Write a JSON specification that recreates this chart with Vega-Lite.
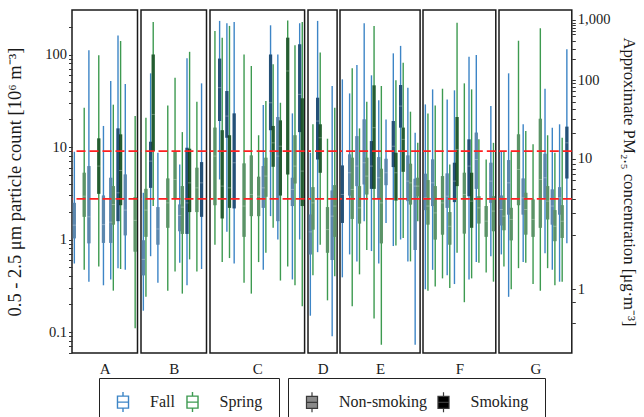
{
"$schema": "https://vega.github.io/schema/vega-lite/v6.json",
"background": "white",
"padding": {"left": 5, "top": 9, "right": 5, "bottom": 5},
"datasets": {
"thr": [{"v": 9.04}, {"v": 2.75}],
"boxes": [
{"g":"A","h":"A01","s":"Fall","k":"Non-smoking","lo":0.55,"q1":1.03,"md":1.43,"q3":2.49,"hi":8.89},
{"g":"A","h":"A02","s":"Spring","k":"Non-smoking","lo":0.47,"q1":1.76,"md":2.94,"q3":5.27,"hi":26.6},
{"g":"A","h":"A03","s":"Fall","k":"Non-smoking","lo":0.35,"q1":0.91,"md":1.76,"q3":6.22,"hi":111},
{"g":"A","h":"A04","s":"Spring","k":"Smoking","lo":0.51,"q1":3.12,"md":6.22,"q3":12.4,"hi":98.1},
{"g":"A","h":"A05","s":"Fall","k":"Non-smoking","lo":0.32,"q1":0.92,"md":1.45,"q3":2.99,"hi":16.9},
{"g":"A","h":"A06","s":"Fall","k":"Non-smoking","lo":0.37,"q1":0.92,"md":1.54,"q3":4.65,"hi":51.7},
{"g":"A","h":"A06","s":"Spring","k":"Non-smoking","lo":0.28,"q1":1.45,"md":2.39,"q3":3.78,"hi":28.7},
{"g":"A","h":"A07","s":"Fall","k":"Smoking","lo":0.49,"q1":1.58,"md":3.2,"q3":15.9,"hi":161},
{"g":"A","h":"A07","s":"Spring","k":"Smoking","lo":0.48,"q1":2.35,"md":5.58,"q3":13.7,"hi":140},
{"g":"A","h":"A08","s":"Fall","k":"Non-smoking","lo":0.47,"q1":1.11,"md":2.08,"q3":5.05,"hi":48},
{"g":"A","h":"A09","s":"Spring","k":"Non-smoking","lo":0.11,"q1":0.74,"md":1.61,"q3":2.87,"hi":21.6},
{"g":"B","h":"B01","s":"Fall","k":"Non-smoking","lo":0.17,"q1":0.41,"md":0.61,"q3":0.98,"hi":3.2},
{"g":"B","h":"B01","s":"Spring","k":"Non-smoking","lo":0.24,"q1":1.07,"md":2.08,"q3":3.53,"hi":20.7},
{"g":"B","h":"B02","s":"Fall","k":"Smoking","lo":0.66,"q1":3.62,"md":7.04,"q3":11.4,"hi":62.6},
{"g":"B","h":"B02","s":"Spring","k":"Smoking","lo":2.3,"q1":9.04,"md":22.5,"q3":100,"hi":225},
{"g":"B","h":"B03","s":"Fall","k":"Non-smoking","lo":0.34,"q1":0.88,"md":1.3,"q3":2.24,"hi":8.67},
{"g":"B","h":"B04","s":"Spring","k":"Non-smoking","lo":0.28,"q1":1.34,"md":2.49,"q3":4.57,"hi":28.2},
{"g":"B","h":"B05","s":"Spring","k":"Non-smoking","lo":0.45,"q1":2.75,"md":4.46,"q3":8.89,"hi":56.2},
{"g":"B","h":"B06","s":"Fall","k":"Non-smoking","lo":0.56,"q1":1.23,"md":1.82,"q3":2.39,"hi":6.48},
{"g":"B","h":"B06","s":"Spring","k":"Non-smoking","lo":0.26,"q1":1.15,"md":2.24,"q3":3.78,"hi":14.5},
{"g":"B","h":"B07","s":"Fall","k":"Smoking","lo":0.32,"q1":1.15,"md":2.49,"q3":9.82,"hi":91},
{"g":"B","h":"B07","s":"Spring","k":"Smoking","lo":0.61,"q1":1.98,"md":4.1,"q3":9.58,"hi":107},
{"g":"B","h":"B08","s":"Spring","k":"Non-smoking","lo":0.45,"q1":1.98,"md":3.62,"q3":5.97,"hi":30.9},
{"g":"B","h":"B09","s":"Fall","k":"Smoking","lo":0.48,"q1":1.76,"md":4.1,"q3":6.87,"hi":48.8},
{"g":"C","h":"C01","s":"Spring","k":"Non-smoking","lo":0.88,"q1":2.35,"md":7.98,"q3":16.2,"hi":180},
{"g":"C","h":"C02","s":"Fall","k":"Smoking","lo":4.46,"q1":19.1,"md":43.8,"q3":90.3,"hi":231},
{"g":"C","h":"C02","s":"Spring","k":"Smoking","lo":0.57,"q1":1.69,"md":3.78,"q3":15.2,"hi":152},
{"g":"C","h":"C03","s":"Fall","k":"Smoking","lo":1.21,"q1":12.6,"md":21.6,"q3":40.3,"hi":218},
{"g":"C","h":"C03","s":"Spring","k":"Smoking","lo":0.63,"q1":2.2,"md":3.62,"q3":13.4,"hi":204},
{"g":"C","h":"C04","s":"Fall","k":"Smoking","lo":0.55,"q1":2.17,"md":6.76,"q3":23.1,"hi":225},
{"g":"C","h":"C05","s":"Spring","k":"Non-smoking","lo":0.34,"q1":1.07,"md":2.3,"q3":6.65,"hi":100},
{"g":"C","h":"C06","s":"Spring","k":"Non-smoking","lo":0.26,"q1":1.79,"md":3.07,"q3":8.11,"hi":75.2},
{"g":"C","h":"C07","s":"Spring","k":"Non-smoking","lo":0.57,"q1":1.79,"md":2.94,"q3":4.77,"hi":13.4},
{"g":"C","h":"C08","s":"Fall","k":"Non-smoking","lo":0.47,"q1":2.2,"md":3.62,"q3":6.22,"hi":28.4},
{"g":"C","h":"C08","s":"Spring","k":"Non-smoking","lo":0.72,"q1":2.9,"md":4.85,"q3":7.66,"hi":31.4},
{"g":"C","h":"C09","s":"Fall","k":"Smoking","lo":1.79,"q1":15.2,"md":30.1,"q3":100,"hi":207},
{"g":"C","h":"C09","s":"Spring","k":"Smoking","lo":1.34,"q1":6.12,"md":11.1,"q3":16.9,"hi":78.4},
{"g":"C","h":"C10","s":"Fall","k":"Non-smoking","lo":1.0,"q1":1.58,"md":7.98,"q3":21.1,"hi":100},
{"g":"C","h":"C10","s":"Spring","k":"Smoking","lo":0.36,"q1":2.99,"md":10.2,"q3":19.4,"hi":30.1},
{"g":"C","h":"C11","s":"Spring","k":"Smoking","lo":0.51,"q1":5.05,"md":66.4,"q3":152,"hi":234},
{"g":"C","h":"C12","s":"Fall","k":"Non-smoking","lo":0.37,"q1":2.3,"md":3.48,"q3":4.65,"hi":23.1},
{"g":"C","h":"C12","s":"Spring","k":"Non-smoking","lo":0.32,"q1":4.04,"md":6.22,"q3":13.4,"hi":126},
{"g":"C","h":"C13","s":"Fall","k":"Smoking","lo":1.0,"q1":14.5,"md":37.1,"q3":129,"hi":218},
{"g":"C","h":"C13","s":"Spring","k":"Smoking","lo":0.19,"q1":2.3,"md":5.49,"q3":33.6,"hi":225},
{"g":"D","h":"D01","s":"Fall","k":"Non-smoking","lo":0.15,"q1":0.69,"md":1.21,"q3":1.86,"hi":8.67},
{"g":"D","h":"D01","s":"Spring","k":"Non-smoking","lo":0.41,"q1":1.28,"md":2.49,"q3":3.68,"hi":17.6},
{"g":"D","h":"D02","s":"Fall","k":"Smoking","lo":0.73,"q1":7.34,"md":19.1,"q3":34.1,"hi":231},
{"g":"D","h":"D02","s":"Spring","k":"Smoking","lo":0.88,"q1":5.27,"md":12.6,"q3":17.6,"hi":105},
{"g":"D","h":"D03","s":"Spring","k":"Non-smoking","lo":0.22,"q1":0.72,"md":1.28,"q3":2.24,"hi":12.3},
{"g":"D","h":"D04","s":"Fall","k":"Non-smoking","lo":0.09,"q1":0.6,"md":1.79,"q3":3.39,"hi":45.7},
{"g":"D","h":"D04","s":"Spring","k":"Non-smoking","lo":0.4,"q1":1.07,"md":2.3,"q3":3.87,"hi":26.6},
{"g":"E","h":"E01","s":"Fall","k":"Smoking","lo":0.39,"q1":1.51,"md":3.07,"q3":6.32,"hi":53.9},
{"g":"E","h":"E02","s":"Fall","k":"Non-smoking","lo":0.69,"q1":2.99,"md":5.27,"q3":8.32,"hi":38},
{"g":"E","h":"E02","s":"Spring","k":"Non-smoking","lo":0.19,"q1":1.67,"md":3.48,"q3":7.66,"hi":70.9},
{"g":"E","h":"E03","s":"Fall","k":"Non-smoking","lo":0.58,"q1":3.78,"md":6.22,"q3":13.1,"hi":77.1},
{"g":"E","h":"E03","s":"Spring","k":"Non-smoking","lo":0.42,"q1":1.49,"md":2.2,"q3":3.78,"hi":15.9},
{"g":"E","h":"E04","s":"Fall","k":"Non-smoking","lo":1.58,"q1":3.94,"md":6.76,"q3":19.9,"hi":218},
{"g":"E","h":"E04","s":"Spring","k":"Non-smoking","lo":0.77,"q1":3.07,"md":4.85,"q3":7.66,"hi":30.9},
{"g":"E","h":"E05","s":"Fall","k":"Smoking","lo":0.75,"q1":3.53,"md":6.22,"q3":11.6,"hi":59.6},
{"g":"E","h":"E05","s":"Spring","k":"Smoking","lo":0.14,"q1":3.53,"md":16.2,"q3":46.4,"hi":204},
{"g":"E","h":"E06","s":"Fall","k":"Non-smoking","lo":0.55,"q1":2.75,"md":4.65,"q3":7.78,"hi":32},
{"g":"E","h":"E06","s":"Spring","k":"Non-smoking","lo":0.073,"q1":0.91,"md":2.49,"q3":5.82,"hi":45.7},
{"g":"E","h":"E07","s":"Fall","k":"Non-smoking","lo":1.51,"q1":3.87,"md":5.27,"q3":7.46,"hi":19.9},
{"g":"E","h":"E08","s":"Fall","k":"Smoking","lo":0.85,"q1":6.07,"md":10.2,"q3":19.1,"hi":103},
{"g":"E","h":"E08","s":"Spring","k":"Smoking","lo":0.86,"q1":2.64,"md":5.27,"q3":8.67,"hi":52.6},
{"g":"E","h":"E09","s":"Fall","k":"Smoking","lo":1.0,"q1":16.2,"md":27.7,"q3":46.8,"hi":124},
{"g":"E","h":"E09","s":"Spring","k":"Smoking","lo":1.04,"q1":5.4,"md":12.1,"q3":16.2,"hi":81.7},
{"g":"E","h":"E10","s":"Fall","k":"Non-smoking","lo":0.58,"q1":2.6,"md":4.28,"q3":8.11,"hi":43.8},
{"g":"E","h":"E10","s":"Spring","k":"Non-smoking","lo":0.58,"q1":2.39,"md":4.1,"q3":6.59,"hi":24.1},
{"g":"E","h":"E11","s":"Fall","k":"Non-smoking","lo":0.073,"q1":0.77,"md":3.78,"q3":4.54,"hi":14.3},
{"g":"E","h":"E11","s":"Spring","k":"Non-smoking","lo":1.58,"q1":2.94,"md":3.78,"q3":4.65,"hi":11.1},
{"g":"F","h":"F01","s":"Fall","k":"Non-smoking","lo":0.29,"q1":2.08,"md":2.82,"q3":5.14,"hi":28.9},
{"g":"F","h":"F01","s":"Spring","k":"Non-smoking","lo":0.28,"q1":1.45,"md":2.3,"q3":4.39,"hi":23.1},
{"g":"F","h":"F02","s":"Fall","k":"Non-smoking","lo":0.47,"q1":2.3,"md":4.1,"q3":7.34,"hi":42},
{"g":"F","h":"F02","s":"Spring","k":"Non-smoking","lo":0.31,"q1":1.0,"md":1.94,"q3":3.78,"hi":28.2},
{"g":"F","h":"F03","s":"Spring","k":"Non-smoking","lo":0.38,"q1":1.13,"md":2.49,"q3":4.85,"hi":42.7},
{"g":"F","h":"F04","s":"Fall","k":"Non-smoking","lo":0.41,"q1":2.2,"md":2.94,"q3":5.18,"hi":32.7},
{"g":"F","h":"F04","s":"Spring","k":"Non-smoking","lo":0.3,"q1":0.88,"md":1.39,"q3":1.98,"hi":6.48},
{"g":"F","h":"F05","s":"Fall","k":"Smoking","lo":0.33,"q1":2.54,"md":4.28,"q3":6.76,"hi":41},
{"g":"F","h":"F05","s":"Spring","k":"Smoking","lo":0.72,"q1":3.78,"md":9.42,"q3":21.1,"hi":221},
{"g":"F","h":"F06","s":"Spring","k":"Non-smoking","lo":0.21,"q1":1.16,"md":3.07,"q3":5.27,"hi":48.8},
{"g":"F","h":"F07","s":"Fall","k":"Smoking","lo":0.37,"q1":2.94,"md":6.22,"q3":12.1,"hi":94.9},
{"g":"F","h":"F07","s":"Spring","k":"Smoking","lo":0.38,"q1":1.34,"md":2.6,"q3":5.27,"hi":42},
{"g":"F","h":"F08","s":"Fall","k":"Non-smoking","lo":0.57,"q1":3.53,"md":7.34,"q3":14.3,"hi":98.9},
{"g":"F","h":"F08","s":"Spring","k":"Non-smoking","lo":0.56,"q1":1.49,"md":2.2,"q3":2.94,"hi":12.1},
{"g":"F","h":"F09","s":"Spring","k":"Non-smoking","lo":0.44,"q1":1.07,"md":1.58,"q3":2.3,"hi":7.34},
{"g":"F","h":"F10","s":"Fall","k":"Non-smoking","lo":0.66,"q1":2.49,"md":4.28,"q3":6.76,"hi":27.7},
{"g":"F","h":"F10","s":"Spring","k":"Non-smoking","lo":0.35,"q1":1.23,"md":2.03,"q3":2.94,"hi":11.1},
{"g":"G","h":"G01","s":"Fall","k":"Non-smoking","lo":0.69,"q1":1.42,"md":2.11,"q3":2.99,"hi":8.89},
{"g":"G","h":"G01","s":"Spring","k":"Non-smoking","lo":0.51,"q1":1.26,"md":1.79,"q3":2.71,"hi":8.89},
{"g":"G","h":"G02","s":"Fall","k":"Non-smoking","lo":0.24,"q1":1.86,"md":4.1,"q3":7.22,"hi":62.6},
{"g":"G","h":"G02","s":"Spring","k":"Non-smoking","lo":0.29,"q1":0.98,"md":1.65,"q3":2.2,"hi":8.89},
{"g":"G","h":"G03","s":"Spring","k":"Non-smoking","lo":0.49,"q1":2.35,"md":5.72,"q3":13.7,"hi":141},
{"g":"G","h":"G04","s":"Fall","k":"Non-smoking","lo":0.57,"q1":1.86,"md":2.82,"q3":4.57,"hi":17.6},
{"g":"G","h":"G04","s":"Spring","k":"Non-smoking","lo":0.56,"q1":1.13,"md":2.11,"q3":3.2,"hi":14.9},
{"g":"G","h":"G05","s":"Spring","k":"Non-smoking","lo":0.33,"q1":1.07,"md":1.65,"q3":2.71,"hi":10.7},
{"g":"G","h":"G06","s":"Spring","k":"Non-smoking","lo":0.28,"q1":1.34,"md":4.46,"q3":20.2,"hi":192},
{"g":"G","h":"G07","s":"Fall","k":"Non-smoking","lo":0.71,"q1":2.82,"md":4.65,"q3":8.46,"hi":42.7},
{"g":"G","h":"G07","s":"Spring","k":"Non-smoking","lo":0.49,"q1":1.65,"md":2.6,"q3":3.78,"hi":13.4},
{"g":"G","h":"G08","s":"Fall","k":"Non-smoking","lo":0.47,"q1":1.45,"md":2.3,"q3":3.48,"hi":16.2},
{"g":"G","h":"G08","s":"Spring","k":"Non-smoking","lo":0.32,"q1":0.96,"md":1.39,"q3":2.08,"hi":8.67},
{"g":"G","h":"G09","s":"Fall","k":"Non-smoking","lo":0.35,"q1":1.86,"md":2.82,"q3":3.68,"hi":17.6},
{"g":"G","h":"G09","s":"Spring","k":"Non-smoking","lo":0.35,"q1":1.04,"md":1.58,"q3":2.35,"hi":12.6},
{"g":"G","h":"G10","s":"Fall","k":"Smoking","lo":0.91,"q1":4.57,"md":11.1,"q3":16.6,"hi":114}
]
},
"data": {"name": "boxes"},
"spacing": -1,
"resolve": {"scale": {"y": "shared", "x": "independent", "stroke": "shared", "fill": "shared"}},
"hconcat": [
{"width": 65.5, "height": 343, "transform": [{"filter": "datum.g === 'A'"}], "layer": [
 {"mark": {"type": "rule", "strokeWidth": 1.4}, "encoding": {
  "x": {"field": "h", "type": "nominal", "scale": {"paddingInner": 0, "paddingOuter": 0}, "axis": {"title": "A"}},
  "xOffset": {"field": "s", "type": "nominal", "scale": {"domain": ["Fall","Spring"], "paddingInner": 0, "paddingOuter": 0.4}},
  "y": {"field": "lo", "type": "quantitative", "scale": {"type": "log", "domain": [0.0593, 303], "nice": false},
   "axis": {"orient": "left", "values": [0.06,0.07,0.08,0.09,0.1,0.2,0.3,0.4,0.5,0.6,0.7,0.8,0.9,1,2,3,4,5,6,7,8,9,10,20,30,40,50,60,70,80,90,100,200],
    "labelExpr": "datum.value == 0.1 ? '0.1' : datum.value == 1 ? '1' : datum.value == 10 ? '10' : datum.value == 100 ? '100' : ''",
    "title": "0.5 - 2.5 μm particle count [10⁶ m⁻³]", "titlePadding": 20, "titleFontSize": 18.5}},
  "y2": {"field": "hi"},
  "stroke": {"field": "s", "type": "nominal", "scale": {"domain": ["Fall","Spring"], "range": ["#3d85c6","#3d9a50"]},
   "legend": {"title": null, "orient": "none", "legendX": 27, "legendY": 368, "direction": "horizontal", "strokeColor": "#222", "fillColor": "white", "padding": 16,
    "symbolType": "M-0.92,-1H0.92V1H-0.92Z M-0.92,0H0.92 M0,-1V-1.67 M0,1V1.67", "symbolSize": 144, "symbolStrokeWidth": 1.4, "symbolFillColor": "white", "symbolOpacity": 1,
    "labelFont": "Liberation Serif", "labelFontSize": 16, "labelColor": "#222", "labelOffset": 19, "columnPadding": 8.5}}
 }},
 {"mark": {"type": "rule", "strokeWidth": 3.2, "strokeCap": "butt"}, "encoding": {
  "x": {"field": "h", "type": "nominal", "axis": {"title": "A"}},
  "xOffset": {"field": "s", "type": "nominal"},
  "y": {"field": "q1", "type": "quantitative"}, "y2": {"field": "q3"},
  "stroke": {"field": "s", "type": "nominal"}}},
 {"mark": {"type": "bar", "width": 3.2, "fillOpacity": 0.4}, "encoding": {
  "x": {"field": "h", "type": "nominal", "axis": {"title": "A"}},
  "xOffset": {"field": "s", "type": "nominal"},
  "y": {"field": "q1", "type": "quantitative"}, "y2": {"field": "q3"},
  "fill": {"field": "k", "type": "nominal", "scale": {"domain": ["Non-smoking","Smoking"], "range": ["#8a8a8a","#000000"]},
   "legend": {"title": null, "orient": "none", "legendX": 216, "legendY": 368, "direction": "horizontal", "strokeColor": "#222", "fillColor": "white", "padding": 16,
    "symbolType": "M-0.92,-1H0.92V1H-0.92Z M-0.92,0H0.92 M0,-1V-1.67 M0,1V1.67", "symbolSize": 144, "symbolStrokeWidth": 1.2, "symbolStrokeColor": "#3a3a3a", "symbolOpacity": 1, "symbolFillOpacity": 1,
    "labelFont": "Liberation Serif", "labelFontSize": 16, "labelColor": "#222", "labelOffset": 19, "columnPadding": 8.5}}}},
 {"mark": {"type": "tick", "thickness": 1, "size": 3.2, "color": "white", "opacity": 0.3}, "encoding": {
  "x": {"field": "h", "type": "nominal", "axis": {"title": "A"}},
  "xOffset": {"field": "s", "type": "nominal"},
  "y": {"field": "md", "type": "quantitative"}}},
 {"data": {"name": "thr"}, "mark": {"type": "rule", "color": "#ff2020", "strokeWidth": 1.8, "strokeDash": [9, 4]}, "encoding": {
  "y": {"field": "v", "type": "quantitative"}}}
]},
{"width": 65.5, "height": 343, "transform": [{"filter": "datum.g === 'B'"}], "layer": [
 {"mark": {"type": "rule", "strokeWidth": 1.4}, "encoding": {
  "x": {"field": "h", "type": "nominal", "scale": {"paddingInner": 0, "paddingOuter": 0}, "axis": {"title": "B"}},
  "xOffset": {"field": "s", "type": "nominal", "scale": {"domain": ["Fall","Spring"], "paddingInner": 0, "paddingOuter": 0.4}},
  "y": {"field": "lo", "type": "quantitative", "axis": null}, "y2": {"field": "hi"},
  "stroke": {"field": "s", "type": "nominal"}}},
 {"mark": {"type": "rule", "strokeWidth": 3.2, "strokeCap": "butt"}, "encoding": {
  "x": {"field": "h", "type": "nominal", "axis": {"title": "B"}}, "xOffset": {"field": "s", "type": "nominal"},
  "y": {"field": "q1", "type": "quantitative", "axis": null}, "y2": {"field": "q3"},
  "stroke": {"field": "s", "type": "nominal"}}},
 {"mark": {"type": "bar", "width": 3.2, "fillOpacity": 0.4}, "encoding": {
  "x": {"field": "h", "type": "nominal", "axis": {"title": "B"}}, "xOffset": {"field": "s", "type": "nominal"},
  "y": {"field": "q1", "type": "quantitative", "axis": null}, "y2": {"field": "q3"},
  "fill": {"field": "k", "type": "nominal"}}},
 {"mark": {"type": "tick", "thickness": 1, "size": 3.2, "color": "white", "opacity": 0.3}, "encoding": {
  "x": {"field": "h", "type": "nominal", "axis": {"title": "B"}}, "xOffset": {"field": "s", "type": "nominal"},
  "y": {"field": "md", "type": "quantitative", "axis": null}}},
 {"data": {"name": "thr"}, "mark": {"type": "rule", "color": "#ff2020", "strokeWidth": 1.8, "strokeDash": [9, 4]}, "encoding": {
  "y": {"field": "v", "type": "quantitative", "axis": null}}}
]},
{"width": 94.6, "height": 343, "transform": [{"filter": "datum.g === 'C'"}], "layer": [
 {"mark": {"type": "rule", "strokeWidth": 1.4}, "encoding": {
  "x": {"field": "h", "type": "nominal", "scale": {"paddingInner": 0, "paddingOuter": 0}, "axis": {"title": "C"}},
  "xOffset": {"field": "s", "type": "nominal", "scale": {"domain": ["Fall","Spring"], "paddingInner": 0, "paddingOuter": 0.4}},
  "y": {"field": "lo", "type": "quantitative", "axis": null}, "y2": {"field": "hi"},
  "stroke": {"field": "s", "type": "nominal"}}},
 {"mark": {"type": "rule", "strokeWidth": 3.2, "strokeCap": "butt"}, "encoding": {
  "x": {"field": "h", "type": "nominal", "axis": {"title": "C"}}, "xOffset": {"field": "s", "type": "nominal"},
  "y": {"field": "q1", "type": "quantitative", "axis": null}, "y2": {"field": "q3"},
  "stroke": {"field": "s", "type": "nominal"}}},
 {"mark": {"type": "bar", "width": 3.2, "fillOpacity": 0.4}, "encoding": {
  "x": {"field": "h", "type": "nominal", "axis": {"title": "C"}}, "xOffset": {"field": "s", "type": "nominal"},
  "y": {"field": "q1", "type": "quantitative", "axis": null}, "y2": {"field": "q3"},
  "fill": {"field": "k", "type": "nominal"}}},
 {"mark": {"type": "tick", "thickness": 1, "size": 3.2, "color": "white", "opacity": 0.3}, "encoding": {
  "x": {"field": "h", "type": "nominal", "axis": {"title": "C"}}, "xOffset": {"field": "s", "type": "nominal"},
  "y": {"field": "md", "type": "quantitative", "axis": null}}},
 {"data": {"name": "thr"}, "mark": {"type": "rule", "color": "#ff2020", "strokeWidth": 1.8, "strokeDash": [9, 4]}, "encoding": {
  "y": {"field": "v", "type": "quantitative", "axis": null}}}
]},
{"width": 29.1, "height": 343, "transform": [{"filter": "datum.g === 'D'"}], "layer": [
 {"mark": {"type": "rule", "strokeWidth": 1.4}, "encoding": {
  "x": {"field": "h", "type": "nominal", "scale": {"paddingInner": 0, "paddingOuter": 0}, "axis": {"title": "D"}},
  "xOffset": {"field": "s", "type": "nominal", "scale": {"domain": ["Fall","Spring"], "paddingInner": 0, "paddingOuter": 0.4}},
  "y": {"field": "lo", "type": "quantitative", "axis": null}, "y2": {"field": "hi"},
  "stroke": {"field": "s", "type": "nominal"}}},
 {"mark": {"type": "rule", "strokeWidth": 3.2, "strokeCap": "butt"}, "encoding": {
  "x": {"field": "h", "type": "nominal", "axis": {"title": "D"}}, "xOffset": {"field": "s", "type": "nominal"},
  "y": {"field": "q1", "type": "quantitative", "axis": null}, "y2": {"field": "q3"},
  "stroke": {"field": "s", "type": "nominal"}}},
 {"mark": {"type": "bar", "width": 3.2, "fillOpacity": 0.4}, "encoding": {
  "x": {"field": "h", "type": "nominal", "axis": {"title": "D"}}, "xOffset": {"field": "s", "type": "nominal"},
  "y": {"field": "q1", "type": "quantitative", "axis": null}, "y2": {"field": "q3"},
  "fill": {"field": "k", "type": "nominal"}}},
 {"mark": {"type": "tick", "thickness": 1, "size": 3.2, "color": "white", "opacity": 0.3}, "encoding": {
  "x": {"field": "h", "type": "nominal", "axis": {"title": "D"}}, "xOffset": {"field": "s", "type": "nominal"},
  "y": {"field": "md", "type": "quantitative", "axis": null}}},
 {"data": {"name": "thr"}, "mark": {"type": "rule", "color": "#ff2020", "strokeWidth": 1.8, "strokeDash": [9, 4]}, "encoding": {
  "y": {"field": "v", "type": "quantitative", "axis": null}}}
]},
{"width": 80.1, "height": 343, "transform": [{"filter": "datum.g === 'E'"}], "layer": [
 {"mark": {"type": "rule", "strokeWidth": 1.4}, "encoding": {
  "x": {"field": "h", "type": "nominal", "scale": {"paddingInner": 0, "paddingOuter": 0}, "axis": {"title": "E"}},
  "xOffset": {"field": "s", "type": "nominal", "scale": {"domain": ["Fall","Spring"], "paddingInner": 0, "paddingOuter": 0.4}},
  "y": {"field": "lo", "type": "quantitative", "axis": null}, "y2": {"field": "hi"},
  "stroke": {"field": "s", "type": "nominal"}}},
 {"mark": {"type": "rule", "strokeWidth": 3.2, "strokeCap": "butt"}, "encoding": {
  "x": {"field": "h", "type": "nominal", "axis": {"title": "E"}}, "xOffset": {"field": "s", "type": "nominal"},
  "y": {"field": "q1", "type": "quantitative", "axis": null}, "y2": {"field": "q3"},
  "stroke": {"field": "s", "type": "nominal"}}},
 {"mark": {"type": "bar", "width": 3.2, "fillOpacity": 0.4}, "encoding": {
  "x": {"field": "h", "type": "nominal", "axis": {"title": "E"}}, "xOffset": {"field": "s", "type": "nominal"},
  "y": {"field": "q1", "type": "quantitative", "axis": null}, "y2": {"field": "q3"},
  "fill": {"field": "k", "type": "nominal"}}},
 {"mark": {"type": "tick", "thickness": 1, "size": 3.2, "color": "white", "opacity": 0.3}, "encoding": {
  "x": {"field": "h", "type": "nominal", "axis": {"title": "E"}}, "xOffset": {"field": "s", "type": "nominal"},
  "y": {"field": "md", "type": "quantitative", "axis": null}}},
 {"data": {"name": "thr"}, "mark": {"type": "rule", "color": "#ff2020", "strokeWidth": 1.8, "strokeDash": [9, 4]}, "encoding": {
  "y": {"field": "v", "type": "quantitative", "axis": null}}}
]},
{"width": 72.8, "height": 343, "transform": [{"filter": "datum.g === 'F'"}], "layer": [
 {"mark": {"type": "rule", "strokeWidth": 1.4}, "encoding": {
  "x": {"field": "h", "type": "nominal", "scale": {"paddingInner": 0, "paddingOuter": 0}, "axis": {"title": "F"}},
  "xOffset": {"field": "s", "type": "nominal", "scale": {"domain": ["Fall","Spring"], "paddingInner": 0, "paddingOuter": 0.4}},
  "y": {"field": "lo", "type": "quantitative", "axis": null}, "y2": {"field": "hi"},
  "stroke": {"field": "s", "type": "nominal"}}},
 {"mark": {"type": "rule", "strokeWidth": 3.2, "strokeCap": "butt"}, "encoding": {
  "x": {"field": "h", "type": "nominal", "axis": {"title": "F"}}, "xOffset": {"field": "s", "type": "nominal"},
  "y": {"field": "q1", "type": "quantitative", "axis": null}, "y2": {"field": "q3"},
  "stroke": {"field": "s", "type": "nominal"}}},
 {"mark": {"type": "bar", "width": 3.2, "fillOpacity": 0.4}, "encoding": {
  "x": {"field": "h", "type": "nominal", "axis": {"title": "F"}}, "xOffset": {"field": "s", "type": "nominal"},
  "y": {"field": "q1", "type": "quantitative", "axis": null}, "y2": {"field": "q3"},
  "fill": {"field": "k", "type": "nominal"}}},
 {"mark": {"type": "tick", "thickness": 1, "size": 3.2, "color": "white", "opacity": 0.3}, "encoding": {
  "x": {"field": "h", "type": "nominal", "axis": {"title": "F"}}, "xOffset": {"field": "s", "type": "nominal"},
  "y": {"field": "md", "type": "quantitative", "axis": null}}},
 {"data": {"name": "thr"}, "mark": {"type": "rule", "color": "#ff2020", "strokeWidth": 1.8, "strokeDash": [9, 4]}, "encoding": {
  "y": {"field": "v", "type": "quantitative", "axis": null}}}
]},
{"width": 72.8, "height": 343, "transform": [{"filter": "datum.g === 'G'"}], "layer": [
 {"mark": {"type": "rule", "strokeWidth": 1.4}, "encoding": {
  "x": {"field": "h", "type": "nominal", "scale": {"paddingInner": 0, "paddingOuter": 0}, "axis": {"title": "G"}},
  "xOffset": {"field": "s", "type": "nominal", "scale": {"domain": ["Fall","Spring"], "paddingInner": 0, "paddingOuter": 0.4}},
  "y": {"field": "lo", "type": "quantitative",
   "axis": {"orient": "right", "values": [0.125,0.21,0.2917,1.132,1.945,2.71,3.53,4.41,5.1,5.82,6.61,7.46,14.06,20,25.5,30.6,35.5,40.1,44.6,48.8,53,88.7,115.6,141.3,166,179.9,195,207,221.3,236.5],
    "labelExpr": "datum.value > 0.28 && datum.value < 0.3 ? '1' : datum.value > 7.4 && datum.value < 7.5 ? '10' : datum.value > 52 && datum.value < 54 ? '100' : datum.value > 230 ? '1,000' : ''",
    "title": "Approximate PM₂.₅ concentration [μg·m⁻³]", "titlePadding": 10, "titleFontSize": 16.7}},
  "y2": {"field": "hi"},
  "stroke": {"field": "s", "type": "nominal"}}},
 {"mark": {"type": "rule", "strokeWidth": 3.2, "strokeCap": "butt"}, "encoding": {
  "x": {"field": "h", "type": "nominal", "axis": {"title": "G"}}, "xOffset": {"field": "s", "type": "nominal"},
  "y": {"field": "q1", "type": "quantitative"}, "y2": {"field": "q3"},
  "stroke": {"field": "s", "type": "nominal"}}},
 {"mark": {"type": "bar", "width": 3.2, "fillOpacity": 0.4}, "encoding": {
  "x": {"field": "h", "type": "nominal", "axis": {"title": "G"}}, "xOffset": {"field": "s", "type": "nominal"},
  "y": {"field": "q1", "type": "quantitative"}, "y2": {"field": "q3"},
  "fill": {"field": "k", "type": "nominal"}}},
 {"mark": {"type": "tick", "thickness": 1, "size": 3.2, "color": "white", "opacity": 0.3}, "encoding": {
  "x": {"field": "h", "type": "nominal", "axis": {"title": "G"}}, "xOffset": {"field": "s", "type": "nominal"},
  "y": {"field": "md", "type": "quantitative"}}},
 {"data": {"name": "thr"}, "mark": {"type": "rule", "color": "#ff2020", "strokeWidth": 1.8, "strokeDash": [9, 4]}, "encoding": {
  "y": {"field": "v", "type": "quantitative"}}}
]}
],
"config": {
 "font": "Liberation Serif",
 "view": {"stroke": "#1a1a1a", "strokeWidth": 1.5},
 "axis": {"labelFont": "Liberation Serif", "titleFont": "Liberation Serif", "labelColor": "#1a1a1a", "titleColor": "#1a1a1a", "titleFontWeight": "normal", "grid": false, "tickColor": "#333", "tickWidth": 1},
 "axisX": {"labels": false, "ticks": false, "domain": false, "titleFontSize": 15, "titlePadding": 8},
 "axisY": {"domain": false, "tickSize": 3.5, "labelFontSize": 14.5, "labelPadding": 2, "titleFontSize": 17.5, "labelOverlap": false}
}
}
